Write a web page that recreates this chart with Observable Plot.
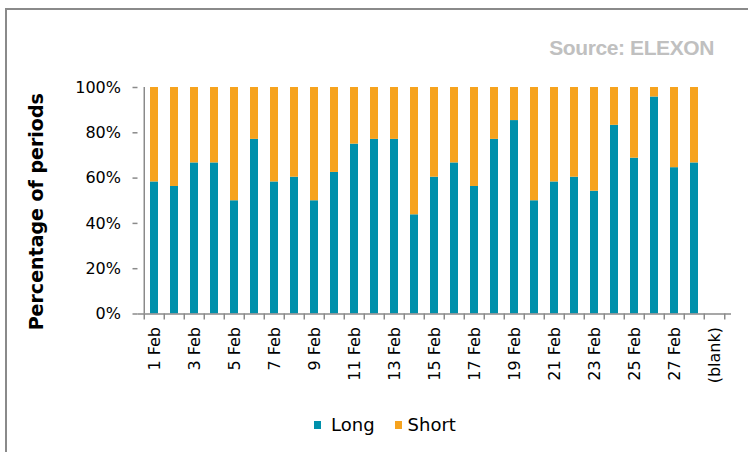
<!DOCTYPE html>
<html>
<head>
<meta charset="utf-8">
<script src="https://cdn.jsdelivr.net/npm/d3@7"></script>
<script src="https://cdn.jsdelivr.net/npm/@observablehq/plot@0.6"></script>
<style>
  body { margin: 0; background: #fff; }
  #wrap { position: relative; width: 748px; height: 452px; overflow: hidden; font-family: "DejaVu Sans", sans-serif; }
  #frame { position: absolute; left: 5px; top: 8px; width: 800px; height: 500px; border-left: 2px solid #8a8a8a; border-top: 2px solid #8a8a8a; }
  #source { position: absolute; right: 34px; top: 37px; font: bold 21px/1 "Liberation Sans", sans-serif; color: #c0c0c0; white-space: nowrap; letter-spacing: -0.4px; }
  #chart { position: absolute; left: 0; top: 0; }
  #legend { position: absolute; left: 314px; top: 414px; display: flex; align-items: center; font-size: 18px; color: #000; }
  #legend .sw { width: 7px; height: 8px; display: inline-block; }
  #legend .item { display: flex; align-items: center; }
</style>
</head>
<body>
<div id="wrap">
  <div id="frame"></div>
  <div id="source">Source: ELEXON</div>
  <div id="chart"></div>
  <div id="legend"></div>
</div>
<script>
const dates = ["1 Feb","2 Feb","3 Feb","4 Feb","5 Feb","6 Feb","7 Feb","8 Feb","9 Feb","10 Feb",
  "11 Feb","12 Feb","13 Feb","14 Feb","15 Feb","16 Feb","17 Feb","18 Feb","19 Feb","20 Feb",
  "21 Feb","22 Feb","23 Feb","24 Feb","25 Feb","26 Feb","27 Feb","28 Feb"];
const categories = [...dates, "(blank)"];
const seriesNames = ["Long", "Short"];
const seriesColors = ["#0090ab", "#f6a31e"];
const longPct  = [58.3, 56.3, 66.7, 66.7, 50.0, 77.1, 58.3, 60.4, 50.0, 62.5, 75.0, 77.1, 77.1, 43.8,
  60.4, 66.7, 56.3, 77.1, 85.4, 50.0, 58.3, 60.4, 54.2, 83.3, 68.8, 95.8, 64.6, 66.7];
const shortPct = [41.7, 43.7, 33.3, 33.3, 50.0, 22.9, 41.7, 39.6, 50.0, 37.5, 25.0, 22.9, 22.9, 56.2,
  39.6, 33.3, 43.7, 22.9, 14.6, 50.0, 41.7, 39.6, 45.8, 16.7, 31.2, 4.2, 35.4, 33.3];
const yTicks = [0, 20, 40, 60, 80, 100];
const xLabelTicks = categories.filter((d, i) => i % 2 === 0);
const yTitle = "Percentage of periods";

const rows = [];
dates.forEach((d, i) => {
  rows.push({date: d, series: seriesNames[0], value: longPct[i]});
  rows.push({date: d, series: seriesNames[1], value: shortPct[i]});
});

const W = 748, H = 400;
const mL = 137.5, mR = 17, mT = 87, mB = H - 313.5;
const step = (W - mL - mR) / categories.length;
const axisColor = "#8a8a8a";

const chart = Plot.plot({
  width: W, height: H,
  marginLeft: mL, marginRight: mR, marginTop: mT, marginBottom: mB,
  style: {fontFamily: "DejaVu Sans, sans-serif", fontSize: "16px", color: "#000", background: "transparent", overflow: "visible"},
  x: {type: "band", domain: categories, paddingInner: 0.6, paddingOuter: 0.3, axis: null},
  y: {domain: [0, 100], axis: null},
  color: {domain: seriesNames, range: seriesColors},
  marks: [
    Plot.barY(rows, {x: "date", y: "value", fill: "series", order: seriesNames}),
    Plot.ruleY([0], {stroke: axisColor, strokeWidth: 1.5}),
    Plot.ruleX([categories[0]], {y1: 0, y2: 100, dx: -step / 2, stroke: axisColor, strokeWidth: 1.5}),
    Plot.axisY({ticks: yTicks, tickFormat: d => d + "%", tickSize: 5, tickPadding: 12, stroke: axisColor, strokeWidth: 1.5, fill: "#000", fontSize: 16, label: null}),
    Plot.axisX({ticks: categories, tickSize: 6, tickFormat: () => "", dx: -step / 2, stroke: axisColor, strokeWidth: 1.5, label: null}),
    Plot.axisX({ticks: [categories[categories.length - 1]], tickSize: 6, tickFormat: () => "", dx: step / 2, stroke: axisColor, strokeWidth: 1.5, label: null}),
    Plot.axisX({ticks: xLabelTicks, tickSize: 0, tickPadding: 13, tickRotate: -90, fill: "#000", fontSize: 16, label: null}),
    Plot.text([yTitle], {frameAnchor: "left", textAnchor: "middle", rotate: -90, dx: -101, dy: 11, fontWeight: "bold", fontSize: 19, fill: "#000"})
  ]
});
document.getElementById("chart").appendChild(chart);

const legend = document.getElementById("legend");
seriesNames.forEach((name, i) => {
  const item = document.createElement("div");
  item.className = "item";
  item.style.marginRight = i === 0 ? "20px" : "0";
  const sw = document.createElement("span");
  sw.className = "sw";
  sw.style.background = seriesColors[i];
  sw.style.marginRight = i === 0 ? "10px" : "6px";
  const t = document.createElement("span");
  t.textContent = name;
  item.appendChild(sw);
  item.appendChild(t);
  legend.appendChild(item);
});
</script>
</body>
</html>
